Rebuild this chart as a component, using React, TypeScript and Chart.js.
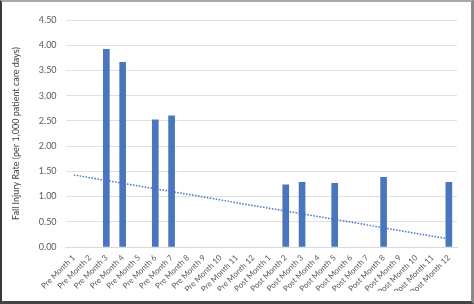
import React, { useEffect, useRef } from "react";
import { Chart, registerables } from "chart.js";

Chart.register(...registerables);

const categories = [
  "Pre Month 1", "Pre Month 2", "Pre Month 3", "Pre Month 4", "Pre Month 5", "Pre Month 6",
  "Pre Month 7", "Pre Month 8", "Pre Month 9", "Pre Month 10", "Pre Month 11", "Pre Month 12",
  "Post Month 1", "Post Month 2", "Post Month 3", "Post Month 4", "Post Month 5", "Post Month 6",
  "Post Month 7", "Post Month 8", "Post Month 9", "Post Month 10", "Post Month 11", "Post Month 12",
];

const injuryRates = [
  0, 0, 3.92, 3.66, 0, 2.52, 2.6, 0, 0, 0, 0, 0,
  0, 1.23, 1.28, 0, 1.26, 0, 0, 1.38, 0, 0, 0, 1.28,
];

// Linear trend: endpoints only, drawn as a straight line across the gap
const trendLine = [
  1.43, null, null, null, null, null, null, null, null, null, null, null,
  null, null, null, null, null, null, null, null, null, null, null, 0.16,
];

const yTitle = "Fall Injury Rate (per 1,000 patient care days)";

export default function App() {
  const ref = useRef<HTMLCanvasElement>(null);

  useEffect(() => {
    if (!ref.current) return;
    const family = "Lato, 'Open Sans', sans-serif";
    const font = { family, size: 9 };
    const chart = new Chart(ref.current, {
      type: "bar",
      data: {
        labels: categories,
        datasets: [
          {
            type: "line",
            label: "Trend",
            data: trendLine,
            borderColor: "#4472C4",
            borderWidth: 1.5,
            borderDash: [1.5, 1.5],
            pointRadius: 0,
            spanGaps: true,
            fill: false,
            order: 0,
          } as any,
          {
            type: "bar",
            label: "Rate",
            data: injuryRates.map((v) => (v === 0 ? null : v)),
            backgroundColor: "#4A76BD",
            borderWidth: 0,
            barThickness: 6,
            order: 1,
          },
        ],
      },
      options: {
        animation: false,
        responsive: false,
        maintainAspectRatio: false,
        layout: { padding: { top: 18, right: 14, left: 9, bottom: 10 } },
        plugins: { legend: { display: false }, tooltip: { enabled: false } },
        scales: {
          x: {
            grid: { display: false, drawTicks: false },
            border: { color: "#d9d9d9" },
            afterFit: (s: any) => {
              s.height = 44;
            },
            ticks: {
              color: "#595959",
              font: { family, size: 8 },
              minRotation: 45,
              maxRotation: 45,
              autoSkip: false,
              padding: 6,
            },
          },
          y: {
            min: 0,
            max: 4.5,
            grid: { color: "#e0e0e0", drawTicks: false },
            border: { display: false },
            ticks: {
              stepSize: 0.5,
              color: "#595959",
              font,
              padding: 9,
              callback: (v: any) => Number(v).toFixed(2),
            },
            title: {
              display: true,
              text: yTitle,
              color: "#404040",
              font,
              padding: { top: 0, bottom: 8 },
            },
          },
        },
      },
    });
    return () => chart.destroy();
  }, []);

  return (
    <div
      style={{
        position: "fixed",
        left: 0,
        top: 0,
        width: 474,
        height: 304,
        boxSizing: "border-box",
        borderTop: "2px solid #a8a8a8",
        borderLeft: "2px solid #3a3a3a",
        borderRight: "3px solid #8a8a8a",
        borderBottom: "3px solid #444",
        background: "#fff",
      }}
    >
      <canvas ref={ref} width={469} height={299} style={{ display: "block" }} />
    </div>
  );
}
